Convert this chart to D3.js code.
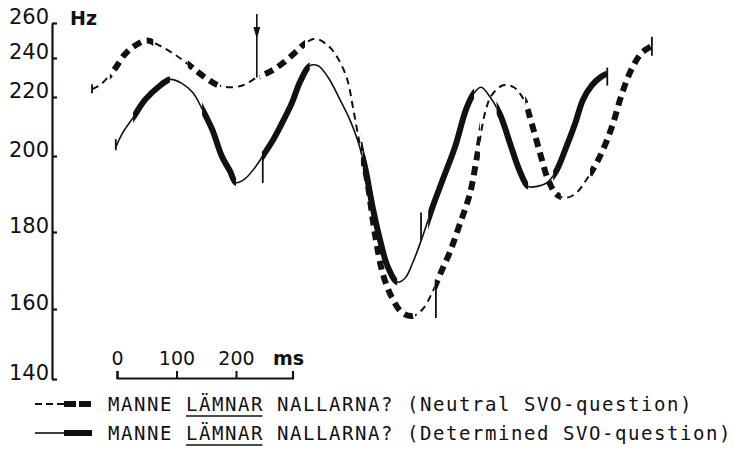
<!DOCTYPE html>
<html>
<head>
<meta charset="utf-8">
<script src="https://cdn.jsdelivr.net/npm/d3@7"></script>
<style>
  html, body { margin: 0; padding: 0; background: #fff; }
  svg { display: block; }
</style>
</head>
<body>
<div id="chart"></div>
<script>
// F0 contours: [time in ms, pitch in Hz]
const neutral = [
  [0, 224], [13, 226], [35, 233], [55, 242], [72, 247], [92, 250], [114, 247], [139, 242],
  [165, 236], [190, 230], [212, 226], [232, 225], [254, 226], [277, 230], [299, 233], [319, 237],
  [341, 243], [361, 249], [376, 251], [397, 247], [413, 240], [429, 229], [439, 216], [450, 204],
  [462, 194], [476, 179], [489, 169], [504, 163], [521, 159], [539, 158], [556, 160], [571, 164],
  [585, 169], [602, 175], [618, 182], [635, 190], [649, 202], [661, 215], [672, 221], [691, 226],
  [709, 225], [726, 219], [739, 211], [753, 201], [766, 194], [780, 190], [795, 189], [812, 190],
  [832, 194], [854, 200], [874, 210], [891, 222], [908, 235], [924, 243], [941, 247]
];
const determined = [
  [40, 203], [52, 208], [69, 213], [89, 219], [111, 225], [131, 229], [151, 227], [170, 222],
  [185, 216], [202, 209], [218, 200], [232, 196], [242, 193], [257, 194], [274, 197], [287, 200],
  [303, 205], [319, 211], [336, 218], [350, 228], [366, 236], [380, 236], [397, 230], [417, 219],
  [434, 212], [447, 205], [459, 197], [471, 187], [484, 178], [497, 171], [513, 167], [526, 168],
  [539, 172], [556, 179], [571, 186], [590, 194], [610, 203], [629, 216], [642, 222], [654, 225],
  [669, 220], [686, 214], [703, 204], [719, 196], [733, 192], [748, 192], [765, 193], [780, 196],
  [797, 203], [812, 211], [825, 219], [840, 226], [854, 230], [866, 232]
];
// stretches drawn with the heavy line (ms)
const neutralHeavy = [[30, 103], [161, 215], [282, 358], [452, 543], [576, 652], [728, 788], [837, 941]];
const determinedHeavy = [[69, 131], [185, 242], [287, 366], [455, 513], [565, 642], [680, 733], [775, 866]];
// segment boundary marks (ms)
const neutralBounds = [0, 277, 578, 941];
const determinedBounds = [40, 287, 553, 866];

const hzTicks = [140, 160, 180, 200, 220, 240, 260];
const msTicks = [0, 100, 200];
const msBarLength = 295;
const msBarStart = 42;

const legendText = [
  'MANNE LÄMNAR NALLARNA? (Neutral SVO-question)',
  'MANNE LÄMNAR NALLARNA? (Determined SVO-question)'
];

const W = 745, H = 471;
const INK = '#111';

const svg = d3.select('#chart')
  .append('svg')
  .attr('width', W)
  .attr('height', H)
  .attr('viewBox', [0, 0, W, H]);

// hand-drawn frequency axis: uneven spacing, so a piecewise scale
const y = d3.scaleLinear()
  .domain(hzTicks)
  .range([379, 309, 232, 156, 97, 58, 23]);
const x = d3.scaleLinear()
  .domain([0, 1000])
  .range([92, 687]);

// y axis
const yAxis = svg.append('g')
  .attr('transform', 'translate(52,0)')
  .call(d3.axisLeft(y)
    .tickValues(hzTicks)
    .tickSize(-5)
    .tickSizeOuter(0)
    .tickPadding(3));
yAxis.select('.domain').attr('stroke', INK).attr('stroke-width', 2.2);
yAxis.selectAll('.tick line').attr('stroke', INK).attr('stroke-width', 2.2);
yAxis.selectAll('.tick text')
  .attr('dy', '0.04em')
  .attr('fill', INK)
  .attr('font-family', 'DejaVu Sans, sans-serif')
  .attr('font-size', 21);

svg.append('text')
  .attr('x', 70)
  .attr('y', 25)
  .attr('font-family', 'DejaVu Sans, sans-serif')
  .attr('font-weight', 'bold')
  .attr('font-size', 19)
  .attr('fill', INK)
  .text('Hz');

// time scale bar
const msScale = d3.scaleLinear()
  .domain([0, msBarLength])
  .range([x(msBarStart), x(msBarStart + msBarLength)]);
const msAxis = svg.append('g')
  .attr('transform', 'translate(0,378)')
  .call(d3.axisTop(msScale)
    .tickValues(msTicks)
    .tickSize(7)
    .tickSizeOuter(7)
    .tickPadding(6));
msAxis.select('.domain').attr('stroke', INK).attr('stroke-width', 2.2);
msAxis.selectAll('.tick line').attr('stroke', INK).attr('stroke-width', 2);
msAxis.selectAll('.tick text')
  .attr('fill', INK)
  .attr('font-family', 'DejaVu Sans, sans-serif')
  .attr('font-size', 19);
svg.append('text')
  .attr('x', msScale(msBarLength) - 4)
  .attr('y', 365)
  .attr('text-anchor', 'middle')
  .attr('font-family', 'DejaVu Sans, sans-serif')
  .attr('font-weight', 'bold')
  .attr('font-size', 19)
  .attr('fill', INK)
  .text('ms');

// contours
const line = d3.line()
  .x(d => x(d[0]))
  .y(d => y(d[1]))
  .curve(d3.curveCatmullRom.alpha(0.5));

function complement(ranges, t0, t1) {
  let out = [], s = t0;
  for (const [a, b] of ranges) {
    if (a > s) {
      out.push([s, a]);
    }
    s = b;
  }
  if (s < t1) {
    out.push([s, t1]);
  }
  return out;
}

const defs = svg.append('defs');
function clip(id, ranges) {
  defs.append('clipPath')
    .attr('id', id)
    .selectAll('rect')
    .data(ranges)
    .join('rect')
    .attr('x', d => x(d[0]))
    .attr('width', d => x(d[1]) - x(d[0]))
    .attr('y', 0)
    .attr('height', H);
}

function valueAt(data, t) {
  const i = d3.bisector(d => d[0]).left(data, t);
  if (i <= 0) return data[0][1];
  if (i >= data.length) return data[data.length - 1][1];
  const a = data[i - 1], b = data[i];
  return a[1] + (b[1] - a[1]) * (t - a[0]) / (b[0] - a[0]);
}

function drawContour(name, data, heavy, dashed) {
  const t0 = data[0][0] - 20, t1 = data[data.length - 1][0] + 20;
  clip(name + '-heavy', heavy);
  clip(name + '-light', complement(heavy, t0, t1));
  const g = svg.append('g').attr('fill', 'none').attr('stroke', INK);
  g.append('path')
    .attr('d', line(data))
    .attr('clip-path', `url(#${name}-light)`)
    .attr('stroke-width', dashed ? 2 : 1.6)
    .attr('stroke-dasharray', dashed ? '7,5' : null);
  g.append('path')
    .attr('d', line(data))
    .attr('clip-path', `url(#${name}-heavy)`)
    .attr('stroke-width', 6)
    .attr('stroke-dasharray', dashed ? '9,6' : null);
}

drawContour('neutral', neutral, neutralHeavy, true);
drawContour('determined', determined, determinedHeavy, false);

// boundary marks: pixels above (-) and below (+) the contour
const neutralSpan = [[-5, 4], null, [0, 34], [-9, 10]];
const determinedSpan = [[-8, 3], [-5, 27], [-28, 0], [-6, 12]];

function drawBounds(data, bounds, spans) {
  bounds.forEach((t, i) => {
    const cx = x(t), cy = y(valueAt(data, t));
    if (spans[i] === null) {
      // arrow from above pointing down onto the contour
      svg.append('line')
        .attr('x1', cx).attr('x2', cx)
        .attr('y1', 14).attr('y2', cy)
        .attr('stroke', INK).attr('stroke-width', 1.6);
      svg.append('path')
        .attr('d', `M${cx - 3.5},27 L${cx + 3.5},27 L${cx},39 Z`)
        .attr('fill', INK);
      return;
    }
    svg.append('line')
      .attr('x1', cx).attr('x2', cx)
      .attr('y1', cy + spans[i][0]).attr('y2', cy + spans[i][1])
      .attr('stroke', INK).attr('stroke-width', 1.8);
  });
}
drawBounds(neutral, neutralBounds, neutralSpan);
drawBounds(determined, determinedBounds, determinedSpan);

// legend
const FS = 19, ADV = 13.0, LS = ADV - 0.602 * FS, TX = 108;
const legend = svg.append('g');
legendText.forEach((label, i) => {
  const by = 411 + i * 29;
  legend.append('text')
    .attr('x', TX)
    .attr('y', by)
    .attr('font-family', 'DejaVu Sans Mono, monospace')
    .attr('font-size', FS)
    .attr('letter-spacing', LS)
    .attr('fill', INK)
    .text(label);
  const start = label.indexOf('LÄMNAR');
  legend.append('line')
    .attr('x1', TX + start * ADV)
    .attr('x2', TX + (start + 6) * ADV - LS)
    .attr('y1', by + 5).attr('y2', by + 5)
    .attr('stroke', INK).attr('stroke-width', 1.4);

  const sy = by - 7;
  const dashed = i === 0;
  legend.append('line')
    .attr('x1', 35).attr('x2', 64)
    .attr('y1', sy).attr('y2', sy)
    .attr('stroke', INK)
    .attr('stroke-width', dashed ? 2 : 1.6)
    .attr('stroke-dasharray', dashed ? '7,4' : null);
  legend.append('line')
    .attr('x1', 64).attr('x2', 92)
    .attr('y1', sy).attr('y2', sy)
    .attr('stroke', INK)
    .attr('stroke-width', 6)
    .attr('stroke-dasharray', dashed ? '12,3' : null);
});
</script>
</body>
</html>
